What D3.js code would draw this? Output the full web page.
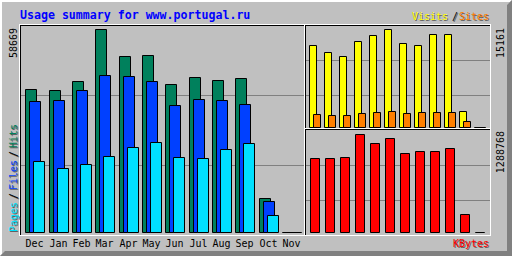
<!DOCTYPE html>
<html>
<head>
<meta charset="utf-8">
<script src="https://cdn.jsdelivr.net/npm/d3@7"></script>
<style>
  body { margin: 0; background: #fff; }
  svg { display: block; }
  text { font-family: "DejaVu Sans Mono", monospace; font-size: 10px; }
</style>
</head>
<body>
<svg id="chart"></svg>
<script>
(function() {

  const title = 'Usage summary for www.portugal.ru';
  const months = ['Dec', 'Jan', 'Feb', 'Mar', 'Apr', 'May', 'Jun', 'Jul', 'Aug', 'Sep', 'Oct', 'Nov'];
  const hits = [41330, 41040, 43640, 58669, 50870, 51160, 42770, 44710, 43840, 44420, 9740, 0];
  const files = [37860, 38150, 41040, 45290, 45000, 43550, 36700, 38440, 38150, 36990, 8960, 0];
  const pages = [20430, 18410, 19650, 21970, 24480, 25920, 21590, 21300, 23900, 25640, 4830, 0];
  const visits = [12690, 11560, 10940, 13260, 14230, 15161, 12950, 12690, 14340, 14340, 2430, 0];
  const sites = [1965, 1810, 1810, 2120, 2274, 2429, 2120, 2274, 2274, 2274, 882, 0];
  const kbytes = [969200, 969200, 982350, 1288768, 1166470, 1232220, 1034960, 1061260, 1061260, 1100710, 232770, 0];

  const width = 512;
  const height = 256;
  const grey = '#c0c0c0';
  const dkgrey = '#808080';

  const svg = d3.select('#chart')
    .attr('width', width)
    .attr('height', height);

  // background + bevel
  svg.append('rect').attr('width', width).attr('height', height).attr('fill', grey);
  svg.append('polygon')
    .attr('points', '0,0 512,0 510,2 2,2 2,254 0,256')
    .attr('fill', '#fff');
  svg.append('polygon')
    .attr('points', '512,0 512,256 0,256 5,251 507,251 507,5')
    .attr('fill', dkgrey);

  function barPath(x, w, top, bottom) {
    return 'M' + (x + 0.5) + ',' + (top + 0.5) + 'H' + (x + w - 0.5) +
      'V' + (bottom + 0.5) + 'H' + (x + 0.5) + 'Z';
  }
  function hline(g, y, x1, x2, color) {
    g.append('path').attr('d', 'M' + x1 + ',' + (y + 0.5) + 'H' + (x2 + 1))
      .attr('stroke', color).attr('fill', 'none');
  }
  function vline(g, x, y1, y2, color) {
    g.append('path').attr('d', 'M' + (x + 0.5) + ',' + y1 + 'V' + (y2 + 1))
      .attr('stroke', color).attr('fill', 'none');
  }
  const px = function(v) { return Math.ceil(v - 1e-6); };

  // grid lines (thirds of each box)
  const gridGroup = svg.append('g').attr('class', 'grid');
  const gridMain = d3.scaleLinear().domain([0, 3]).range([235, 25]);
  const gridTop = d3.scaleLinear().domain([0, 3]).range([130, 25]);
  const gridBot = d3.scaleLinear().domain([0, 3]).range([235, 130]);
  [1, 2].forEach(function(t) {
    hline(gridGroup, Math.round(gridMain(t)), 21, 303, dkgrey);
    hline(gridGroup, Math.round(gridTop(t)), 306, 489, dkgrey);
    hline(gridGroup, Math.round(gridBot(t)), 306, 489, dkgrey);
  });

  // frames
  const frame = svg.append('g').attr('class', 'frame');
  hline(frame, 24, 19, 490, '#fff');
  vline(frame, 19, 24, 235, '#fff');
  hline(frame, 25, 20, 489, '#000');
  vline(frame, 20, 25, 235, '#000');
  vline(frame, 490, 24, 235, '#fff');
  hline(frame, 235, 20, 490, '#fff');
  vline(frame, 304, 24, 235, '#fff');
  vline(frame, 305, 25, 234, '#000');
  hline(frame, 128, 305, 489, '#fff');
  hline(frame, 129, 306, 489, '#000');

  // main chart: hits / files / pages
  const xMain = d3.scaleBand().domain(months).range([25, 305]);
  const yMain = d3.scaleLinear().domain([0, d3.max(hits)]).range([232, 29]);
  const mainSeries = [
    { values: hits, color: '#00805c', off: 0 },
    { values: files, color: '#0040ff', off: 4 },
    { values: pages, color: '#00e0ff', off: 8 }
  ];
  const mainGroup = svg.append('g').attr('class', 'main-bars');
  mainSeries.forEach(function(s) {
    mainGroup.append('g').selectAll('path')
      .data(months)
      .enter()
      .append('path')
      .attr('d', function(d, i) {
        return barPath(px(xMain(d)) + s.off, 12, Math.round(yMain(s.values[i])), 232);
      })
      .attr('fill', s.color)
      .attr('stroke', '#000');
  });

  svg.append('g').attr('class', 'month-labels')
    .selectAll('text')
    .data(months)
    .enter()
    .append('text')
    .attr('x', function(d) { return px(xMain(d)) + 9.5; })
    .attr('y', 247)
    .attr('text-anchor', 'middle')
    .attr('fill', '#000')
    .text(function(d) { return d; });

  // visits / sites
  const xSide = d3.scaleBand().domain(months).range([309, 489]);
  const yTop = d3.scaleLinear().domain([0, d3.max(visits)]).range([127, 29]);
  const topGroup = svg.append('g').attr('class', 'top-bars');
  [{ values: visits, color: '#ffff00', off: 0 },
   { values: sites, color: '#ff8000', off: 4 }].forEach(function(s) {
    topGroup.append('g').selectAll('path')
      .data(months)
      .enter()
      .append('path')
      .attr('d', function(d, i) {
        return barPath(px(xSide(d)) + s.off, 8, Math.round(yTop(s.values[i])), 127);
      })
      .attr('fill', s.color)
      .attr('stroke', '#000');
  });

  // kbytes
  const yBot = d3.scaleLinear().domain([0, d3.max(kbytes)]).range([232, 134]);
  svg.append('g').attr('class', 'kbytes-bars')
    .selectAll('path')
    .data(months)
    .enter()
    .append('path')
    .attr('d', function(d, i) {
      return barPath(px(xSide(d)) + 1, 10, Math.round(yBot(kbytes[i])), 232);
    })
    .attr('fill', '#ff0000')
    .attr('stroke', '#000');

  // title
  svg.append('text')
    .attr('x', 20)
    .attr('y', 19)
    .style('font-size', '11.6px')
    .style('font-weight', 'bold')
    .attr('fill', '#0000ff')
    .text(title);

  // legends with shadow
  function legend(x, y, str, color, anchor, rot) {
    [['#606060', 1], [color, 0]].forEach(function(c) {
      svg.append('text')
        .attr('transform', 'translate(' + (x + c[1]) + ',' + (y + c[1]) + ')' + (rot ? ' rotate(-90)' : ''))
        .attr('text-anchor', anchor)
        .attr('fill', c[0])
        .text(str);
    });
  }
  legend(489, 20, 'Sites', '#ff8000', 'end');
  legend(458, 20, '/', '#000', 'end');
  legend(448, 20, 'Visits', '#ffff00', 'end');
  legend(489, 247, 'KBytes', '#ff0000', 'end');
  legend(17, 232, 'Pages', '#00e0ff', 'start', true);
  legend(17, 199, '/', '#000', 'start', true);
  legend(17, 190, 'Files', '#0040ff', 'start', true);
  legend(17, 157, '/', '#000', 'start', true);
  legend(17, 148, 'Hits', '#00805c', 'start', true);

  // max labels
  function maxLabel(x, y, v) {
    svg.append('text')
      .attr('transform', 'translate(' + x + ',' + y + ') rotate(-90)')
      .attr('text-anchor', 'end')
      .attr('fill', '#000')
      .text(v);
  }
  maxLabel(17, 28, d3.max(hits));
  maxLabel(504, 28, d3.max(visits));
  maxLabel(504, 131, d3.max(kbytes));

})();
</script>
</body>
</html>
